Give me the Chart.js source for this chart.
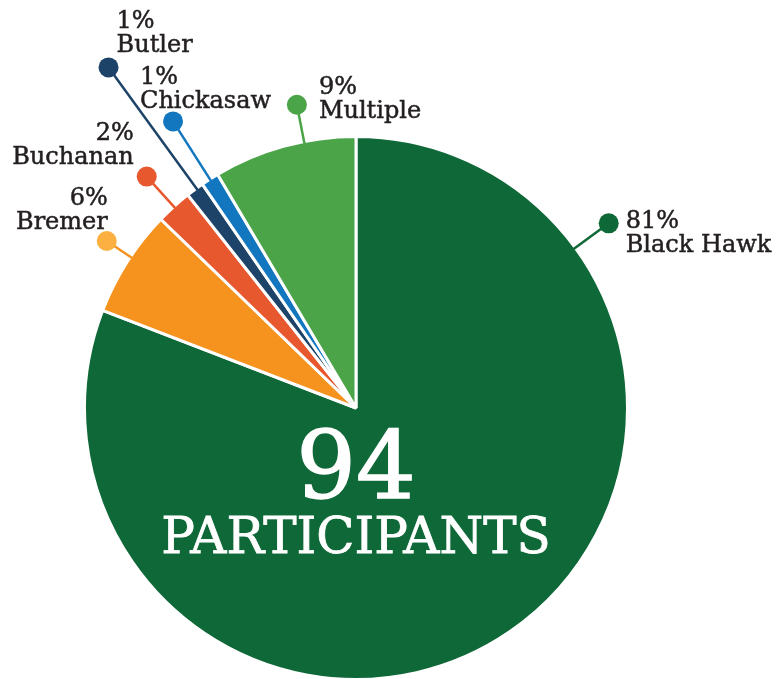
<!DOCTYPE html>
<html>
<head>
<meta charset="utf-8">
<title>Participants by county</title>
<script src="https://cdn.jsdelivr.net/npm/chart.js@4/dist/chart.umd.min.js"></script>
<style>
  html, body { margin: 0; padding: 0; background: #fff; overflow: hidden; }
  #wrap { width: 778px; height: 682px; position: relative; }
</style>
</head>
<body>
<div id="wrap"><canvas id="countyChart"></canvas></div>
<script>
// participant counts by county (percent labels are rounded shares of the total)
const counties = ['Black Hawk', 'Bremer', 'Buchanan', 'Butler', 'Chickasaw', 'Multiple'];
const participants = [76, 6, 2, 1, 1, 8];
const percentLabels = ['81%', '6%', '2%', '1%', '1%', '9%'];
const sliceColors = ['#0f6837', '#f6921e', '#e8582f', '#1d4468', '#1277bf', '#4ba447'];
const dotColors = ['#0f6837', '#fbb041', '#e8582f', '#1d4468', '#1277bf', '#4ba447'];

// leader placement: where along the slice the line leaves, how far out the dot sits
const leaderAt = [0.185, 0.555, 0.5, 0.6, 0.5, 0.64];
const dotDistance = [313, 300, 312, 421, 340, 309];
// text offset from the dot (first baseline) and alignment
const textOffset = [[17, 5], [1, -36], [-13, -37], [8, -39], [-33, -37], [22, -11]];
const textAlign = ['left', 'right', 'right', 'left', 'left', 'left'];

const total = participants.reduce((a, b) => a + b, 0);
const labelFont = '24px "DejaVu Serif", serif';

// fill plus a thin stroke of the same colour so the serif reads a bit heavier
function boldText(ctx, text, x, y, weight) {
    ctx.lineWidth = weight;
    ctx.strokeText(text, x, y);
    ctx.fillText(text, x, y);
}

const calloutPlugin = {
    id: 'callouts',
    afterDatasetsDraw(chart) {
        const ctx = chart.ctx;
        const arcs = chart.getDatasetMeta(0).data;
        ctx.save();
        arcs.forEach((arc, i) => {
            const { x, y, startAngle, endAngle, outerRadius } = arc.getProps(['x', 'y', 'startAngle', 'endAngle', 'outerRadius'], true);
            const a = startAngle + (endAngle - startAngle) * leaderAt[i];
            const sx = x + Math.cos(a) * (outerRadius - 2);
            const sy = y + Math.sin(a) * (outerRadius - 2);
            const dx = x + Math.cos(a) * dotDistance[i];
            const dy = y + Math.sin(a) * dotDistance[i];

            // leader line
            ctx.strokeStyle = sliceColors[i];
            ctx.lineWidth = 2.5;
            ctx.beginPath();
            ctx.moveTo(sx, sy);
            ctx.lineTo(dx, dy);
            ctx.stroke();

            // dot
            ctx.fillStyle = dotColors[i];
            ctx.beginPath();
            ctx.arc(dx, dy, 10, 0, Math.PI * 2);
            ctx.fill();

            // label
            ctx.fillStyle = '#231f20';
            ctx.strokeStyle = '#231f20';
            ctx.font = labelFont;
            ctx.textAlign = textAlign[i];
            ctx.textBaseline = 'alphabetic';
            const tx = dx + textOffset[i][0];
            const ty = dy + textOffset[i][1];
            boldText(ctx, percentLabels[i], tx, ty, 0.5);
            boldText(ctx, counties[i], tx, ty + 24, 0.5);
        });
        ctx.restore();
    },
    afterDraw(chart) {
        // total in the middle of the big slice
        const ctx = chart.ctx;
        const arc = chart.getDatasetMeta(0).data[0];
        ctx.save();
        ctx.fillStyle = '#ffffff';
        ctx.strokeStyle = '#ffffff';
        ctx.textAlign = 'center';
        ctx.textBaseline = 'alphabetic';
        ctx.font = '94px "DejaVu Serif", serif';
        boldText(ctx, String(total), arc.x, 498, 1.5);
        ctx.font = '50px "DejaVu Serif", serif';
        boldText(ctx, 'PARTICIPANTS', arc.x, 553, 0.8);
        ctx.restore();
    }
};

new Chart(document.getElementById('countyChart'), {
    type: 'pie',
    data: {
        labels: counties,
        datasets: [{
            data: participants,
            backgroundColor: sliceColors,
            borderColor: '#ffffff',
            borderWidth: 3
        }]
    },
    options: {
        responsive: true,
        maintainAspectRatio: false,
        animation: false,
        layout: { padding: { left: 83, right: 149, top: 135, bottom: 1 } },
        plugins: {
            legend: { display: false },
            tooltip: { enabled: false }
        }
    },
    plugins: [calloutPlugin]
});
</script>
</body>
</html>
